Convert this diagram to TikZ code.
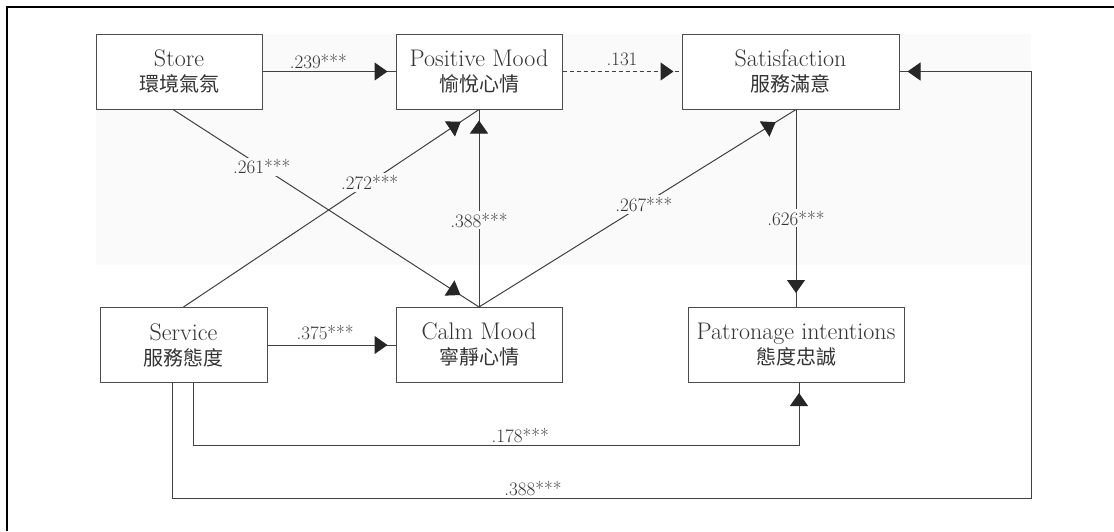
\documentclass[tikz,border=0pt]{standalone}
\usepackage{fontspec}
\newfontfamily\cjk{Noto Sans CJK TC}
\usepackage{xcolor}
\usepackage{tikz}
\usetikzlibrary{arrows.meta,calc,decorations.markings}

\begin{document}
\begin{tikzpicture}[x=1pt, y=-1pt, >={Triangle[length=13pt,width=18pt]},
    box/.style={draw=black!70, line width=1pt, fill=white, align=center, inner sep=0pt,
      minimum height=75pt, text=black!80, font=\fontsize{24}{25}\selectfont},
    link/.style={draw=black!75, line width=1pt},
    endtip/.style={postaction={decorate}, decoration={markings,
      mark=at position -#1 with {\arrow[black!85]{>}}}},
    endtip/.default=8pt,
    coef/.style={text=black!80, fill=black!2, inner sep=2pt, font=\fontsize{19}{20}\selectfont}]
    \useasboundingbox (0,0) rectangle (1114,531);
    \fill[black!2] (96,34) rectangle (1031,265);
    \draw[line width=2.5pt] (7,531) -- (7,7) -- (1114,7);

    \node[box, minimum width=166pt] (store) at (179,71.5) {Store\\{\cjk\fontsize{20}{25}\selectfont 環境氣氛}};
    \node[box, minimum width=166pt] (pos) at (479,71.5) {Positive Mood\\{\cjk\fontsize{20}{25}\selectfont 愉悅心情}};
    \node[box, minimum width=217pt] (sat) at (790.5,71.5) {Satisfaction\\{\cjk\fontsize{20}{25}\selectfont 服務滿意}};
    \node[box, minimum width=167pt] (svc) at (183.5,345) {Service\\{\cjk\fontsize{20}{25}\selectfont 服務態度}};
    \node[box, minimum width=166pt] (calm) at (479,345) {Calm Mood\\{\cjk\fontsize{20}{25}\selectfont 寧靜心情}};
    \node[box, minimum width=216pt] (pat) at (796,345) {Patronage intentions\\{\cjk\fontsize{20}{25}\selectfont 態度忠誠}};

    \draw[link, endtip] (store) -- node[coef, above, fill=none, pos=0.42] {.239***} (pos);
    \draw[link, endtip, dash pattern=on 4pt off 3pt] (pos) -- node[coef, above=3pt, fill=none] {.131} (sat);
    \draw[link, endtip] (svc) -- node[coef, above=3pt, fill=none, pos=0.45] {.375***} (calm);
    \draw[link, endtip=22pt] ([xshift=-6pt]store.south) -- node[coef, pos=0.29] {.261***} (calm.north);
    \draw[link, endtip=22pt] (svc.north) -- node[coef, pos=0.63] {.272***} (pos.south);
    \draw[link, endtip=11pt] (calm.north) -- node[coef, pos=0.44] {.388***} (pos.south);
    \draw[link, endtip=24pt] (calm.north) -- node[coef, pos=0.52] {.267***} ([xshift=5.5pt]sat.south);
    \draw[link, endtip=14pt] ([xshift=5.5pt]sat.south) -- node[coef, pos=0.55] {.626***} (pat.north);
    \draw[link, endtip=10pt] ([xshift=9.5pt]svc.south) -- ++(0,62)
      -| node[coef, above, fill=none, pos=0.27] {.178***} ([xshift=3pt]pat.south);
    \draw[link, endtip] ([xshift=-11.5pt]svc.south) -- ++(0,115)
      -| node[coef, above, fill=none, pos=0.21] {.388***} ([xshift=132pt]sat.east) -- (sat.east);
\end{tikzpicture}
\end{document}
